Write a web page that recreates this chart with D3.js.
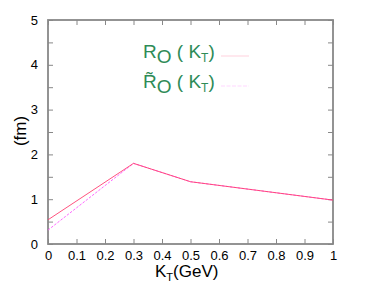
<!DOCTYPE html>
<html>
<head>
<meta charset="utf-8">
<script src="https://cdn.jsdelivr.net/npm/d3@7"></script>
<style>
  body { margin: 0; background: #fff; }
  svg { display: block; font-family: "Liberation Sans", Arial, sans-serif; }
</style>
</head>
<body>
<svg id="chart" width="369" height="285"></svg>
<script>
// K_T values (GeV)
const kt = [0, 0.3, 0.5, 1.0];
// R_O(K_T) in fm
const rO = [0.54, 1.80, 1.39, 0.98];
// R~_O(K_T) in fm
const rOTilde = [0.31, 1.80, 1.39, 0.98];
const xTicks = [0, 0.1, 0.2, 0.3, 0.4, 0.5, 0.6, 0.7, 0.8, 0.9, 1];
const yTicks = [0, 1, 2, 3, 4, 5];
const yMinor = [0.5, 1.5, 2.5, 3.5, 4.5];

const svg = d3.select("#chart");
const margin = {top: 20, right: 36, bottom: 41, left: 48};
const width = 369 - margin.left - margin.right;
const height = 285 - margin.top - margin.bottom;
const axisColor = "#888";

const g = svg.append("g").attr("transform", `translate(${margin.left},${margin.top})`);

const x = d3.scaleLinear().domain([0, 1]).range([0, width]);
const y = d3.scaleLinear().domain([0, 5]).range([height, 0]);

// frame
g.append("rect")
  .attr("width", width).attr("height", height)
  .attr("fill", "none").attr("stroke", axisColor).attr("stroke-width", 1.8);

// inward ticks on all four sides
const tick = 5;
const fmtX = d => d === 0 || d === 1 ? String(d) : d3.format(".1f")(d);

const axBottom = g.append("g").attr("transform", `translate(0,${height})`)
  .call(d3.axisBottom(x).tickValues(xTicks).tickSize(-tick).tickPadding(tick + 3).tickFormat(fmtX));
const axTop = g.append("g")
  .call(d3.axisTop(x).tickValues(xTicks).tickSize(-tick).tickFormat(""));
const axLeft = g.append("g")
  .call(d3.axisLeft(y).tickValues(yTicks.concat(yMinor)).tickSize(-tick).tickPadding(tick + 5)
    .tickFormat(d => Number.isInteger(d) ? d : ""));
const axRight = g.append("g").attr("transform", `translate(${width},0)`)
  .call(d3.axisRight(y).tickValues(yTicks.concat(yMinor)).tickSize(-tick).tickFormat(""));

[axBottom, axTop, axLeft, axRight].forEach(a => {
  a.select(".domain").remove();
  a.selectAll(".tick line").attr("stroke", axisColor).attr("stroke-width", 1);
  a.selectAll(".tick text").attr("fill", "#000").style("font-size", "13px");
});
axBottom.selectAll(".tick text").attr("dy", "0.6em");

// lines
const line = d3.line().x(d => x(d[0])).y(d => y(d[1]));
g.append("path")
  .datum(kt.map((k, i) => [k, rOTilde[i]]))
  .attr("d", line).attr("fill", "none")
  .attr("stroke", "#ff55ff").attr("stroke-width", 0.9).attr("stroke-dasharray", "2.5,1.5");
g.append("path")
  .datum(kt.map((k, i) => [k, rO[i]]))
  .attr("d", line).attr("fill", "none")
  .attr("stroke", "#ff4070").attr("stroke-width", 0.9);

// legend
const green = "#2e8b57";
const leg = svg.append("g");
function legendLabel(yb, tilde) {
  const t = leg.append("text").attr("x", 143).attr("y", yb)
    .attr("fill", green).style("font-size", "19px");
  t.append("tspan").text(tilde ? "R\u0303" : "R");
  t.append("tspan").attr("dy", 5).text("O");
  t.append("tspan").attr("dy", -5).text(" ( K");
  t.append("tspan").attr("dy", 4).style("font-size", "12px").text("T");
  t.append("tspan").attr("dy", -4).text(")");
}
legendLabel(58, false);
legendLabel(88, true);
leg.append("line").attr("x1", 221).attr("x2", 249).attr("y1", 56).attr("y2", 56)
  .attr("stroke", "#ff4070").attr("stroke-width", 0.6).attr("stroke-opacity", 0.4);
leg.append("line").attr("x1", 221).attr("x2", 249).attr("y1", 86).attr("y2", 86)
  .attr("stroke", "#ff55ff").attr("stroke-width", 0.6).attr("stroke-opacity", 0.4)
  .attr("stroke-dasharray", "4,1.5");

// axis titles
const xt = svg.append("text").attr("x", 155).attr("y", 277).style("font-size", "17px");
xt.append("tspan").text("K");
xt.append("tspan").attr("dy", 4).style("font-size", "11px").text("T");
xt.append("tspan").attr("dy", -4).text("(GeV)");

svg.append("text")
  .attr("transform", "translate(26,131) rotate(-90)")
  .attr("text-anchor", "middle").style("font-size", "17px").text("(fm)");
</script>
</body>
</html>
